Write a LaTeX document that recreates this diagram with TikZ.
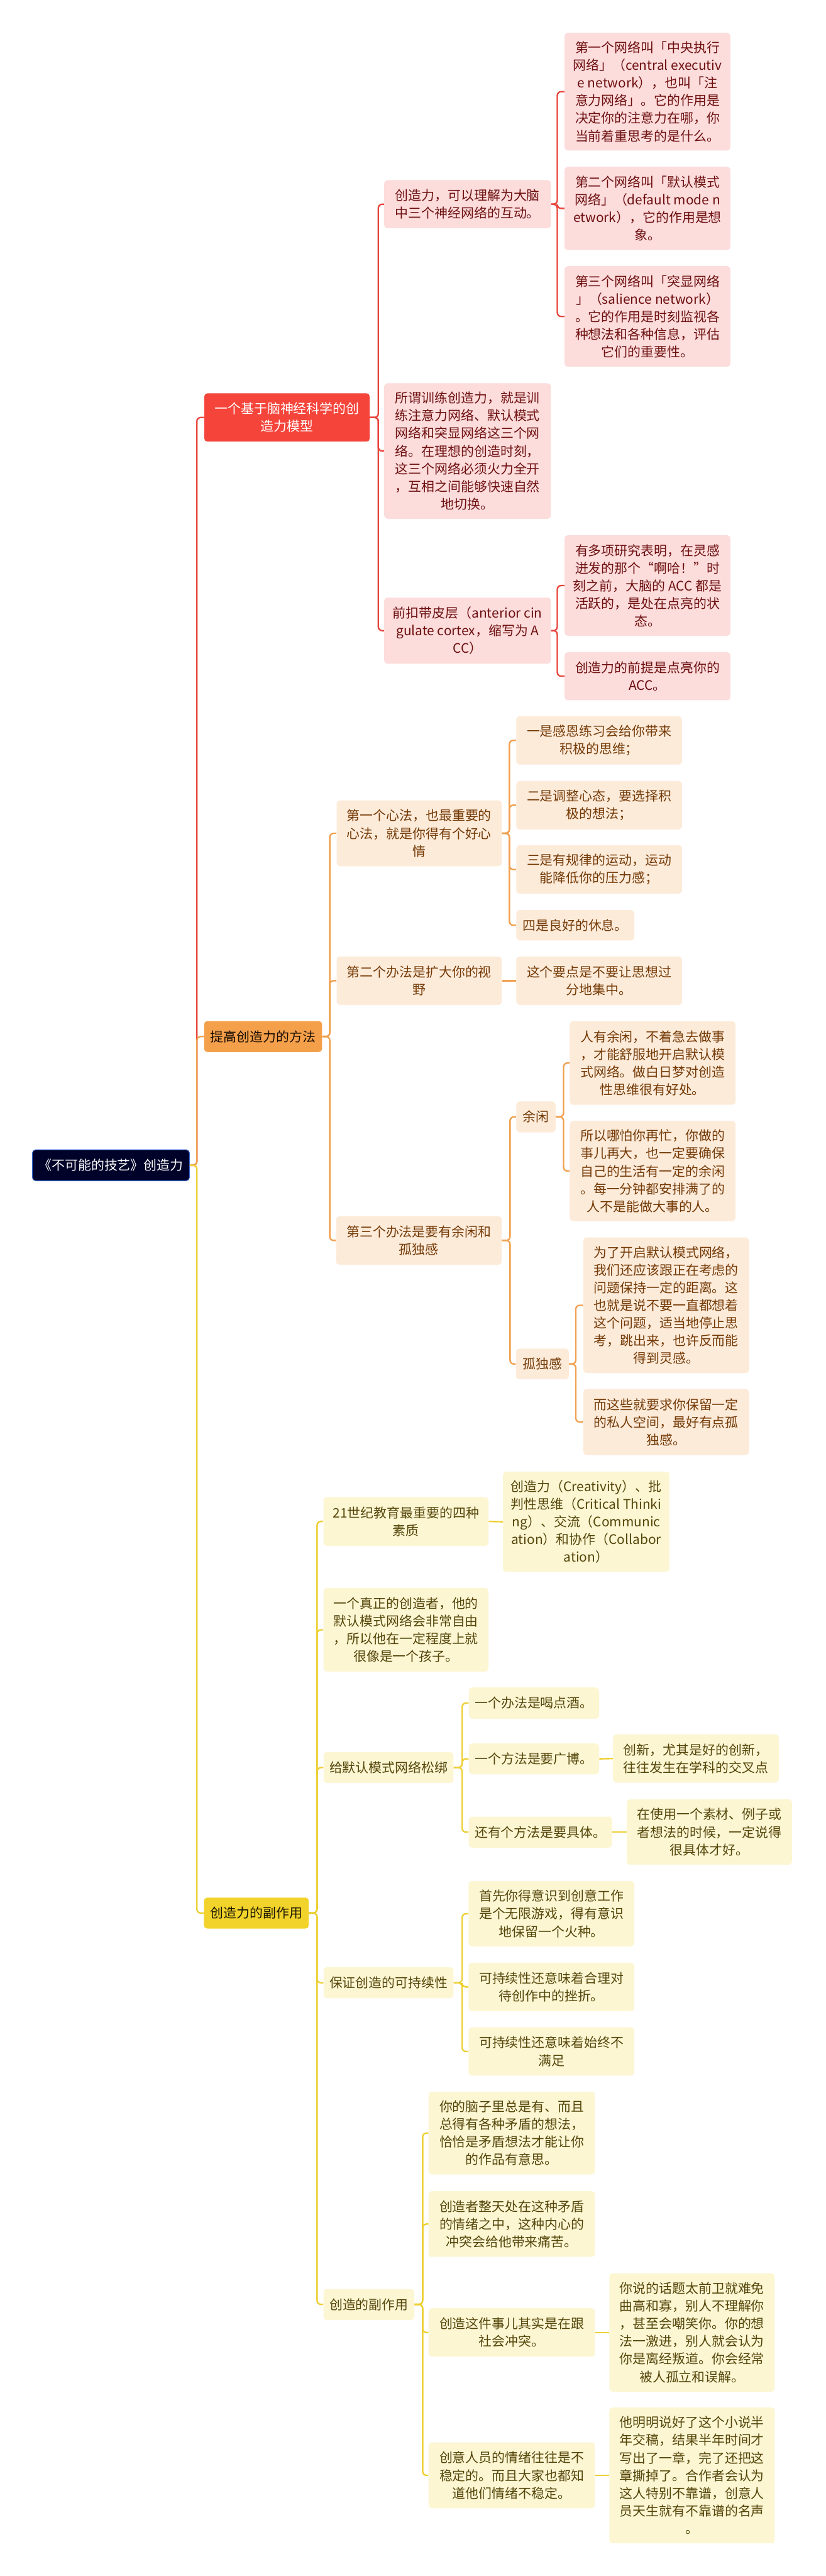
\documentclass[tikz,border=0pt]{standalone}
\usepackage{fontspec}
\setmainfont{Noto Sans CJK SC}
\definecolor{rootfill}{HTML}{000229}
\definecolor{rootedge}{HTML}{3A6AD0}
\definecolor{redfill}{HTML}{F5453B}
\definecolor{pinkfill}{HTML}{FDDCDC}
\definecolor{redtext}{HTML}{6E1010}
\definecolor{redstroke}{HTML}{E8463D}
\definecolor{orgfill}{HTML}{F4A04B}
\definecolor{peachfill}{HTML}{FDEBDA}
\definecolor{orgtext}{HTML}{743A06}
\definecolor{orgstroke}{HTML}{F0A04E}
\definecolor{ylwfill}{HTML}{F2D32C}
\definecolor{creamfill}{HTML}{FDF6D3}
\definecolor{ylwtext}{HTML}{54460A}
\definecolor{ylwstroke}{HTML}{EDD033}
\begin{document}
\begin{tikzpicture}[
    box/.style={rounded corners=0.1cm, inner sep=0pt, align=center,
        font=\fontsize{11.6}{15.6}\selectfont, minimum width=5.14cm},
    rootbox/.style={box, fill=rootfill, draw=rootedge, line width=0.6pt, text=white,
        minimum width=4.87cm, minimum height=0.96cm},
    redmain/.style={box, fill=redfill, text=white},
    redsub/.style={box, fill=pinkfill, text=redtext},
    orgmain/.style={box, fill=orgfill, text=black!80!orgtext},
    orgsub/.style={box, fill=peachfill, text=orgtext},
    ylwmain/.style={box, fill=ylwfill, text=black!70!ylwtext},
    ylwsub/.style={box, fill=creamfill, text=ylwtext},
    redline/.style={draw=redstroke, line width=1.3pt, rounded corners=0.12cm},
    orgline/.style={draw=orgstroke, line width=1.3pt, rounded corners=0.12cm},
    ylwline/.style={draw=ylwstroke, line width=1.3pt, rounded corners=0.12cm}]
    \fill[white] (0,0) rectangle (25.60,-79.85);
    \useasboundingbox (0,0) rectangle (25.60,-79.85);

    % root
    \node[rootbox] (root) at (3.44,-36.12) {《不可能的技艺》创造力};

    % branch 1
    \node[redmain, minimum width=5.13cm, minimum height=1.50cm] (b1) at (8.90,-12.94) {一个基于脑神经科学的创\\造力模型};
    \node[redsub, minimum width=5.17cm, minimum height=1.49cm] (n1) at (14.50,-6.33) {创造力，可以理解为大脑\\中三个神经网络的互动。};
    \node[redsub, minimum height=3.65cm] (n1a) at (20.08,-2.84) {第一个网络叫「中央执行\\网络」（central executiv\\e network），也叫「注\\意力网络」。它的作用是\\决定你的注意力在哪，你\\当前着重思考的是什么。};
    \node[redsub, minimum height=2.58cm] (n1b) at (20.08,-6.46) {第二个网络叫「默认模式\\网络」（default mode n\\etwork），它的作用是想\\象。};
    \node[redsub, minimum height=3.12cm] (n1c) at (20.08,-9.81) {第三个网络叫「突显网络\\」（salience network）\\。它的作用是时刻监视各\\种想法和各种信息，评估\\它们的重要性。};
    \node[redsub, minimum width=5.17cm, minimum height=4.20cm] (n2) at (14.50,-13.98) {所谓训练创造力，就是训\\练注意力网络、默认模式\\网络和突显网络这三个网\\络。在理想的创造时刻，\\这三个网络必须火力全开\\，互相之间能够快速自然\\地切换。};
    \node[redsub, minimum width=5.17cm, minimum height=2.05cm] (n3) at (14.50,-19.55) {前扣带皮层（anterior cin\\gulate cortex，缩写为 A\\CC）};
    \node[redsub, minimum height=3.12cm] (n3a) at (20.08,-18.15) {有多项研究表明，在灵感\\迸发的那个“啊哈！”时\\刻之前，大脑的 ACC 都是\\活跃的，是处在点亮的状\\态。};
    \node[redsub, minimum height=1.49cm] (n3b) at (20.08,-20.96) {创造力的前提是点亮你的\\ACC。};

    % branch 2
    \node[orgmain, minimum width=3.66cm, minimum height=0.96cm] (b2) at (8.16,-32.13) {提高创造力的方法};
    \node[orgsub, minimum width=5.12cm, minimum height=2.04cm] (m1) at (13.00,-25.83) {第一个心法，也最重要的\\心法，就是你得有个好心\\情};
    \node[orgsub, minimum height=1.50cm] (m1a) at (18.58,-22.95) {一是感恩练习会给你带来\\积极的思维；};
    \node[orgsub, minimum height=1.50cm] (m1b) at (18.58,-24.96) {二是调整心态，要选择积\\极的想法；};
    \node[orgsub, minimum height=1.50cm] (m1c) at (18.58,-26.95) {三是有规律的运动，运动\\能降低你的压力感；};
    \node[orgsub, minimum width=3.66cm, minimum height=0.94cm] (m1d) at (17.84,-28.68) {四是良好的休息。};
    \node[orgsub, minimum width=5.12cm, minimum height=1.50cm] (m2) at (13.00,-30.40) {第二个办法是扩大你的视\\野};
    \node[orgsub, minimum height=1.50cm] (m2a) at (18.58,-30.40) {这个要点是不要让思想过\\分地集中。};
    \node[orgsub, minimum height=1.50cm] (m3) at (12.99,-38.45) {第三个办法是要有余闲和\\孤独感};
    \node[orgsub, minimum width=1.22cm, minimum height=0.96cm] (leisure) at (16.62,-34.62) {余闲};
    \node[orgsub, minimum height=2.59cm] (leisurea) at (20.24,-32.95) {人有余闲，不着急去做事\\，才能舒服地开启默认模\\式网络。做白日梦对创造\\性思维很有好处。};
    \node[orgsub, minimum height=3.11cm] (leisureb) at (20.24,-36.30) {所以哪怕你再忙，你做的\\事儿再大，也一定要确保\\自己的生活有一定的余闲\\。每一分钟都安排满了的\\人不是能做大事的人。};
    \node[orgsub, minimum width=1.64cm, minimum height=0.95cm] (alone) at (16.82,-42.28) {孤独感};
    \node[orgsub, minimum height=4.20cm] (alonea) at (20.66,-40.46) {为了开启默认模式网络，\\我们还应该跟正在考虑的\\问题保持一定的距离。这\\也就是说不要一直都想着\\这个问题，适当地停止思\\考，跳出来，也许反而能\\得到灵感。};
    \node[orgsub, minimum height=2.05cm] (aloneb) at (20.66,-44.08) {而这些就要求你保留一定\\的私人空间，最好有点孤\\独感。};

    % branch 3
    \node[ylwmain, minimum width=3.25cm, minimum height=0.96cm] (b3) at (7.95,-59.30) {创造力的副作用};
    \node[ylwsub, minimum width=5.12cm, minimum height=1.51cm] (s1) at (12.59,-47.16) {21世纪教育最重要的四种\\素质};
    \node[ylwsub, minimum width=5.16cm, minimum height=3.11cm] (s1a) at (18.18,-47.17) {创造力（Creativity）、批\\判性思维（Critical Thinki\\ng）、交流（Communic\\ation）和协作（Collabor\\ation）};
    \node[ylwsub, minimum width=5.12cm, minimum height=2.59cm] (s2) at (12.59,-50.52) {一个真正的创造者，他的\\默认模式网络会非常自由\\，所以他在一定程度上就\\很像是一个孩子。};
    \node[ylwsub, minimum width=4.03cm, minimum height=0.96cm] (s3) at (12.05,-54.79) {给默认模式网络松绑};
    \node[ylwsub, minimum width=4.04cm, minimum height=0.97cm] (s3a) at (16.56,-52.79) {一个办法是喝点酒。};
    \node[ylwsub, minimum width=4.04cm, minimum height=0.96cm] (s3b) at (16.56,-54.52) {一个方法是要广博。};
    \node[ylwsub, minimum height=1.50cm] (s3b1) at (21.58,-54.51) {创新，尤其是好的创新，\\往往发生在学科的交叉点};
    \node[ylwsub, minimum width=4.45cm, minimum height=0.96cm] (s3c) at (16.76,-56.79) {还有个方法是要具体。};
    \node[ylwsub, minimum width=5.12cm, minimum height=2.03cm] (s3c1) at (22.00,-56.79) {在使用一个素材、例子或\\者想法的时候，一定说得\\很具体才好。};
    \node[ylwsub, minimum width=4.03cm, minimum height=0.96cm] (s4) at (12.05,-61.46) {保证创造的可持续性};
    \node[ylwsub, minimum height=2.03cm] (s4a) at (17.10,-59.32) {首先你得意识到创意工作\\是个无限游戏，得有意识\\地保留一个火种。};
    \node[ylwsub, minimum height=1.50cm] (s4b) at (17.10,-61.59) {可持续性还意味着合理对\\待创作中的挫折。};
    \node[ylwsub, minimum height=1.50cm] (s4c) at (17.10,-63.59) {可持续性还意味着始终不\\满足};
    \node[ylwsub, minimum width=2.82cm, minimum height=0.96cm] (s5) at (11.44,-71.43) {创造的副作用};
    \node[ylwsub, minimum width=5.16cm, minimum height=2.57cm] (s5a) at (15.87,-66.12) {你的脑子里总是有、而且\\总得有各种矛盾的想法，\\恰恰是矛盾想法才能让你\\的作品有意思。};
    \node[ylwsub, minimum width=5.16cm, minimum height=2.04cm] (s5b) at (15.87,-68.94) {创造者整天处在这种矛盾\\的情绪之中，这种内心的\\冲突会给他带来痛苦。};
    \node[ylwsub, minimum width=5.16cm, minimum height=1.51cm] (s5c) at (15.87,-72.30) {创造这件事儿其实是在跟\\社会冲突。};
    \node[ylwsub, minimum width=5.13cm, minimum height=3.67cm] (s5c1) at (21.46,-72.30) {你说的话题太前卫就难免\\曲高和寡，别人不理解你\\，甚至会嘲笑你。你的想\\法一激进，别人就会认为\\你是离经叛道。你会经常\\被人孤立和误解。};
    \node[ylwsub, minimum width=5.16cm, minimum height=2.04cm] (s5d) at (15.87,-76.73) {创意人员的情绪往往是不\\稳定的。而且大家也都知\\道他们情绪不稳定。};
    \node[ylwsub, minimum width=5.13cm, minimum height=4.21cm] (s5d1) at (21.46,-76.73) {他明明说好了这个小说半\\年交稿，结果半年时间才\\写出了一章，完了还把这\\章撕掉了。合作者会认为\\这人特别不靠谱，创意人\\员天生就有不靠谱的名声\\。};

    % connectors, red
    \draw[redline] (root.east) -- ++(0.22,0) |- (b1.west);
    \draw[redline] (b1.east) -- ++(0.26,0) |- (n1.west);
    \draw[redline] (b1.east) -- ++(0.26,0) |- (n2.west);
    \draw[redline] (b1.east) -- ++(0.26,0) |- (n3.west);
    \draw[redline] (n1.east) -- ++(0.19,0) |- (n1a.west);
    \draw[redline] (n1.east) -- ++(0.19,0) |- (n1b.west);
    \draw[redline] (n1.east) -- ++(0.19,0) |- (n1c.west);
    \draw[redline] (n3.east) -- ++(0.19,0) |- (n3a.west);
    \draw[redline] (n3.east) -- ++(0.19,0) |- (n3b.west);

    % connectors, orange
    \draw[orgline] (root.east) -- ++(0.22,0) |- (b2.west);
    \draw[orgline] (b2.east) -- ++(0.23,0) |- (m1.west);
    \draw[orgline] (b2.east) -- ++(0.23,0) |- (m2.west);
    \draw[orgline] (b2.east) -- ++(0.23,0) |- (m3.west);
    \draw[orgline] (m1.east) -- ++(0.23,0) |- (m1a.west);
    \draw[orgline] (m1.east) -- ++(0.23,0) |- (m1b.west);
    \draw[orgline] (m1.east) -- ++(0.23,0) |- (m1c.west);
    \draw[orgline] (m1.east) -- ++(0.23,0) |- (m1d.west);
    \draw[orgline] (m2.east) -- (m2a.west);
    \draw[orgline] (m3.east) -- ++(0.25,0) |- (leisure.west);
    \draw[orgline] (m3.east) -- ++(0.25,0) |- (alone.west);
    \draw[orgline] (leisure.east) -- ++(0.24,0) |- (leisurea.west);
    \draw[orgline] (leisure.east) -- ++(0.24,0) |- (leisureb.west);
    \draw[orgline] (alone.east) -- ++(0.21,0) |- (alonea.west);
    \draw[orgline] (alone.east) -- ++(0.21,0) |- (aloneb.west);

    % connectors, yellow
    \draw[ylwline] (root.east) -- ++(0.22,0) |- (b3.west);
    \draw[ylwline] (b3.east) -- ++(0.25,0) |- (s1.west);
    \draw[ylwline] (b3.east) -- ++(0.25,0) |- (s2.west);
    \draw[ylwline] (b3.east) -- ++(0.25,0) |- (s3.west);
    \draw[ylwline] (b3.east) -- ++(0.25,0) |- (s4.west);
    \draw[ylwline] (b3.east) -- ++(0.25,0) |- (s5.west);
    \draw[ylwline] (s1.east) -- (s1a.west);
    \draw[ylwline] (s3.east) -- ++(0.26,0) |- (s3a.west);
    \draw[ylwline] (s3.east) -- ++(0.26,0) |- (s3b.west);
    \draw[ylwline] (s3.east) -- ++(0.26,0) |- (s3c.west);
    \draw[ylwline] (s3b.east) -- (s3b1.west);
    \draw[ylwline] (s3c.east) -- (s3c1.west);
    \draw[ylwline] (s4.east) -- ++(0.26,0) |- (s4a.west);
    \draw[ylwline] (s4.east) -- ++(0.26,0) |- (s4b.west);
    \draw[ylwline] (s4.east) -- ++(0.26,0) |- (s4c.west);
    \draw[ylwline] (s5.east) -- ++(0.25,0) |- (s5a.west);
    \draw[ylwline] (s5.east) -- ++(0.25,0) |- (s5b.west);
    \draw[ylwline] (s5.east) -- ++(0.25,0) |- (s5c.west);
    \draw[ylwline] (s5.east) -- ++(0.25,0) |- (s5d.west);
    \draw[ylwline] (s5c.east) -- (s5c1.west);
    \draw[ylwline] (s5d.east) -- (s5d1.west);
\end{tikzpicture}
\end{document}
